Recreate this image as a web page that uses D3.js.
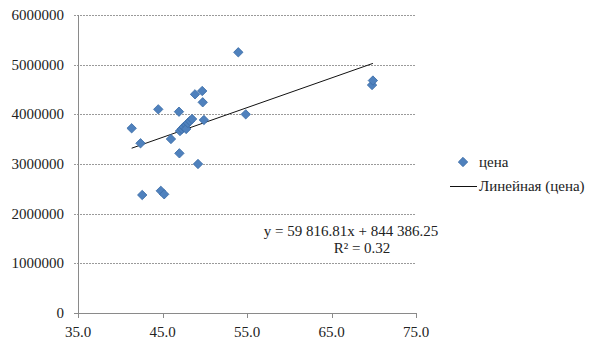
<html>
<head>
  <script src="https://d3js.org/d3.v7.min.js"></script>
</head>
<body style="margin:0">
  <svg width="605" height="349"></svg>

<script>
// площадь / цена
var area = [41.35, 42.4, 42.6, 44.5, 44.8, 45.2, 46.0, 46.95, 47.0, 47.07, 47.3, 47.5, 47.8, 47.8,
            48.0, 48.25, 48.5, 48.85, 49.2, 49.7, 49.76, 49.9, 53.97, 54.85, 69.8, 69.9];
var price = [3719000, 3417000, 2376000, 4101000, 2460000, 2390000, 3503000, 4053000, 3215000, 3664000,
             3705000, 3745000, 3785000, 3705000, 3826000, 3866000, 3906000, 4403000, 3000000, 4470000,
             4242000, 3886000, 5249000, 4000000, 4590000, 4680000];

var xTicks = [35, 45, 55, 65, 75];
var yTicks = [0, 1000000, 2000000, 3000000, 4000000, 5000000, 6000000];

var slope = 59816.81, intercept = 844386.25;
var eqText = "y = 59 816.81x + 844 386.25";
var r2Text = "R² = 0.32";
var seriesName = "цена";
var trendName = "Линейная (цена)";

var svg = d3.select("svg");
var x = d3.scaleLinear().domain([35, 75]).range([78, 416]);
var y = d3.scaleLinear().domain([0, 6000000]).range([313, 15]);

// сетка
svg.selectAll("line.grid").data(yTicks.slice(1)).enter().append("line")
  .attr("class", "grid")
  .attr("x1", 74).attr("x2", 416)
  .attr("y1", function(d){ return Math.round(y(d)) + 0.5; })
  .attr("y2", function(d){ return Math.round(y(d)) + 0.5; })
  .attr("stroke", "#9a9a9a")
  .attr("stroke-dasharray", "2,1");

// оси: рисуем линии и подписи сами, по шкалам
svg.append("line").attr("x1", 78.5).attr("x2", 78.5).attr("y1", y(6000000)).attr("y2", 313.5)
  .attr("stroke", "#8a8a8a");
svg.append("line").attr("x1", 74).attr("x2", 416).attr("y1", 313.5).attr("y2", 313.5)
  .attr("stroke", "#8a8a8a");

svg.selectAll("line.xtick").data(xTicks).enter().append("line")
  .attr("class", "xtick")
  .attr("x1", function(d){ return Math.round(x(d)) + 0.5; })
  .attr("x2", function(d){ return Math.round(x(d)) + 0.5; })
  .attr("y1", 313).attr("y2", 318)
  .attr("stroke", "#8a8a8a");

svg.selectAll("text.ylab").data(yTicks).enter().append("text")
  .attr("class", "ylab")
  .attr("x", 64).attr("y", function(d){ return y(d) + 5; })
  .attr("text-anchor", "end")
  .attr("font-family", "Liberation Serif").attr("font-size", 15).attr("fill", "#222")
  .text(function(d){ return d3.format("d")(d); });

svg.selectAll("text.xlab").data(xTicks).enter().append("text")
  .attr("class", "xlab")
  .attr("x", function(d){ return x(d); }).attr("y", 337)
  .attr("text-anchor", "middle")
  .attr("font-family", "Liberation Serif").attr("font-size", 15).attr("fill", "#222")
  .text(function(d){ return d3.format(".1f")(d); });

// линия тренда
var xMin = d3.min(area), xMax = d3.max(area);
svg.append("line")
  .attr("x1", x(xMin)).attr("y1", y(slope * xMin + intercept))
  .attr("x2", x(xMax)).attr("y2", y(slope * xMax + intercept))
  .attr("stroke", "#111").attr("stroke-width", 1);

var diamond = d3.symbol().type(d3.symbolSquare).size(44);
var pts = area.map(function(a, i){ return [a, price[i]]; });
svg.selectAll("path.pt").data(pts).enter().append("path")
  .attr("class", "pt")
  .attr("d", diamond)
  .attr("transform", function(d){ return "translate(" + x(d[0]) + "," + y(d[1]) + ") rotate(45)"; })
  .attr("fill", "#4f81bd")
  .attr("stroke", "#3c6ea8")
  .attr("stroke-width", 0.8);

function label(tx, ty, s, anchor) {
  svg.append("text").attr("x", tx).attr("y", ty)
    .attr("text-anchor", anchor || "start")
    .attr("font-family", "Liberation Serif").attr("font-size", 15).attr("fill", "#222")
    .text(s);
}

// подпись уравнения
label(351, 236, eqText, "middle");
label(362, 253, r2Text, "middle");

// легенда
svg.append("path").attr("d", diamond)
  .attr("transform", "translate(463,162) rotate(45)")
  .attr("fill", "#4f81bd").attr("stroke", "#3c6ea8").attr("stroke-width", 0.8);
label(479, 167, seriesName);
svg.append("line").attr("x1", 450).attr("x2", 477).attr("y1", 186.5).attr("y2", 186.5)
  .attr("stroke", "#111");
label(479, 191, trendName);
</script>
</body></html>
